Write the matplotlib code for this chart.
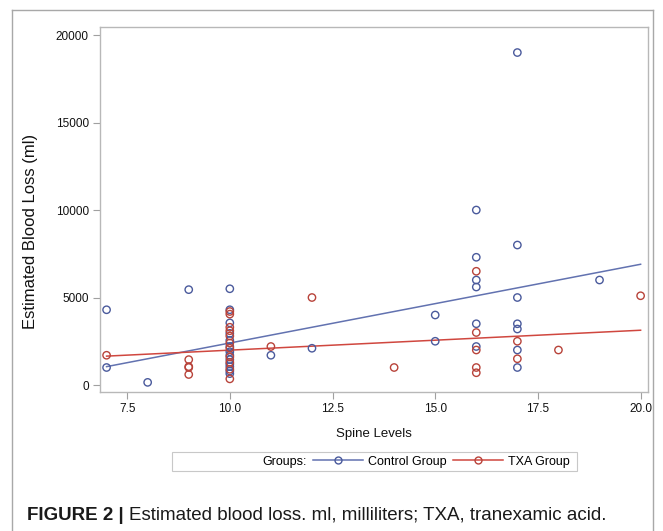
import numpy as np
import matplotlib.pyplot as plt
from matplotlib.lines import Line2D
from matplotlib.patches import Rectangle

plt.rcParams['font.family'] = ['Liberation Sans', 'DejaVu Sans']

# spine levels / estimated blood loss (ml)
control_x = [7, 7, 8, 9,
             10, 10, 10, 10, 10, 10, 10, 10, 10, 10, 10, 10, 10,
             11, 12, 15, 15,
             16, 16, 16, 16, 16, 16,
             17, 17, 17, 17, 17, 17, 17, 19]
control_y = [4300, 1000, 150, 5450,
             5500, 4300, 3550, 2950, 2550, 2200, 1900, 1700, 1450, 1200, 1050, 800, 650,
             1700, 2100, 4000, 2500,
             10000, 7300, 6000, 5600, 3500, 2200,
             19000, 8000, 5000, 3500, 3200, 2000, 1000, 6000]

txa_x = [7, 9, 9, 9, 9,
         10, 10, 10, 10, 10, 10, 10, 10, 10, 10, 10,
         11, 12, 14,
         16, 16, 16, 16, 16,
         17, 17, 18, 20]
txa_y = [1700, 1450, 1050, 1000, 600,
         4200, 4050, 3300, 3100, 2800, 2400, 2100, 1600, 1300, 900, 350,
         2200, 5000, 1000,
         6500, 3000, 2000, 1000, 700,
         2500, 1500, 2000, 5100]

# regression lines (end points)
fit_x = [7, 20]
control_fit = [1050, 6900]
txa_fit = [1650, 3130]

blue = '#4a5a9c'
red = '#b8433a'
blue_line = '#6272b0'
red_line = '#d0473f'

fig = plt.figure(figsize=(6.63, 5.31), dpi=100)
W, H = 663, 531

ax = fig.add_axes([100 / W, 1 - 392 / H, 548 / W, 365 / H])

ax.plot(fit_x, control_fit, color=blue_line, lw=1.1, zorder=2)
ax.plot(fit_x, txa_fit, color=red_line, lw=1.1, zorder=2)
ax.scatter(control_x, control_y, s=28, facecolors='none', edgecolors=blue,
           linewidths=1.0, zorder=3)
ax.scatter(txa_x, txa_y, s=28, facecolors='none', edgecolors=red,
           linewidths=1.0, zorder=3)

ax.set_xlim(6.84, 20.18)
ax.set_ylim(-400, 20460)
ax.set_xticks([7.5, 10.0, 12.5, 15.0, 17.5, 20.0])
ax.set_xticklabels(['7.5', '10.0', '12.5', '15.0', '17.5', '20.0'])
ax.set_yticks([0, 5000, 10000, 15000, 20000])

for s in ax.spines.values():
    s.set_color('#b8b8b8')
    s.set_linewidth(1.0)
ax.tick_params(direction='out', length=5, width=0.8, color='#a0a0a0',
               labelsize=8.5, labelcolor='#111111', pad=3)

ax.set_xlabel('Spine Levels', fontsize=9.5, color='#111111', labelpad=9)
ax.set_ylabel('Estimated Blood Loss (ml)', fontsize=12, color='#111111')
ax.yaxis.set_label_coords(-0.113, 0.44)

# legend box
fig.patches.append(Rectangle((172 / W, 1 - 471 / H), 405 / W, 19 / H,
                             transform=fig.transFigure, fill=False,
                             edgecolor='#c8c8c8', lw=0.8))
handles = [Line2D([], [], color='none'),
           Line2D([], [], color=blue_line, lw=1.1, marker='o', mfc='none',
                  mec=blue, ms=5),
           Line2D([], [], color=red_line, lw=1.1, marker='o', mfc='none',
                  mec=red, ms=5)]
labels = ['Groups:', 'Control Group', 'TXA Group']
fig.legend(handles, labels, ncol=3, frameon=False, fontsize=9,
           loc='center right', bbox_to_anchor=(570 / W, 1 - 461.5 / H),
           handlelength=4.0, handletextpad=0.4, columnspacing=0.5,
           numpoints=1, borderpad=0, borderaxespad=0)

# outer frame
for xs, ys in [([12, 12], [531, 10]), ([12, 653], [10, 10]), ([653, 653], [10, 531])]:
    fig.add_artist(Line2D([x / W for x in xs], [1 - y / H for y in ys],
                          transform=fig.transFigure, color='#a8a8a8', lw=1.0))

# caption
cap_y = 1 - 515 / H
t1 = fig.text(27 / W, cap_y, 'FIGURE 2 |', fontsize=13.5, fontweight='bold',
              va='center', ha='left', color='#1a1a1a')
r = fig.canvas.get_renderer()
bb = t1.get_window_extent(r)
fig.text(bb.x1 / W + 5 / W, cap_y,
         'Estimated blood loss. ml, milliliters; TXA, tranexamic acid.',
         fontsize=13.5, va='center', ha='left', color='#1a1a1a')

fig.savefig('out.png', dpi=100)
